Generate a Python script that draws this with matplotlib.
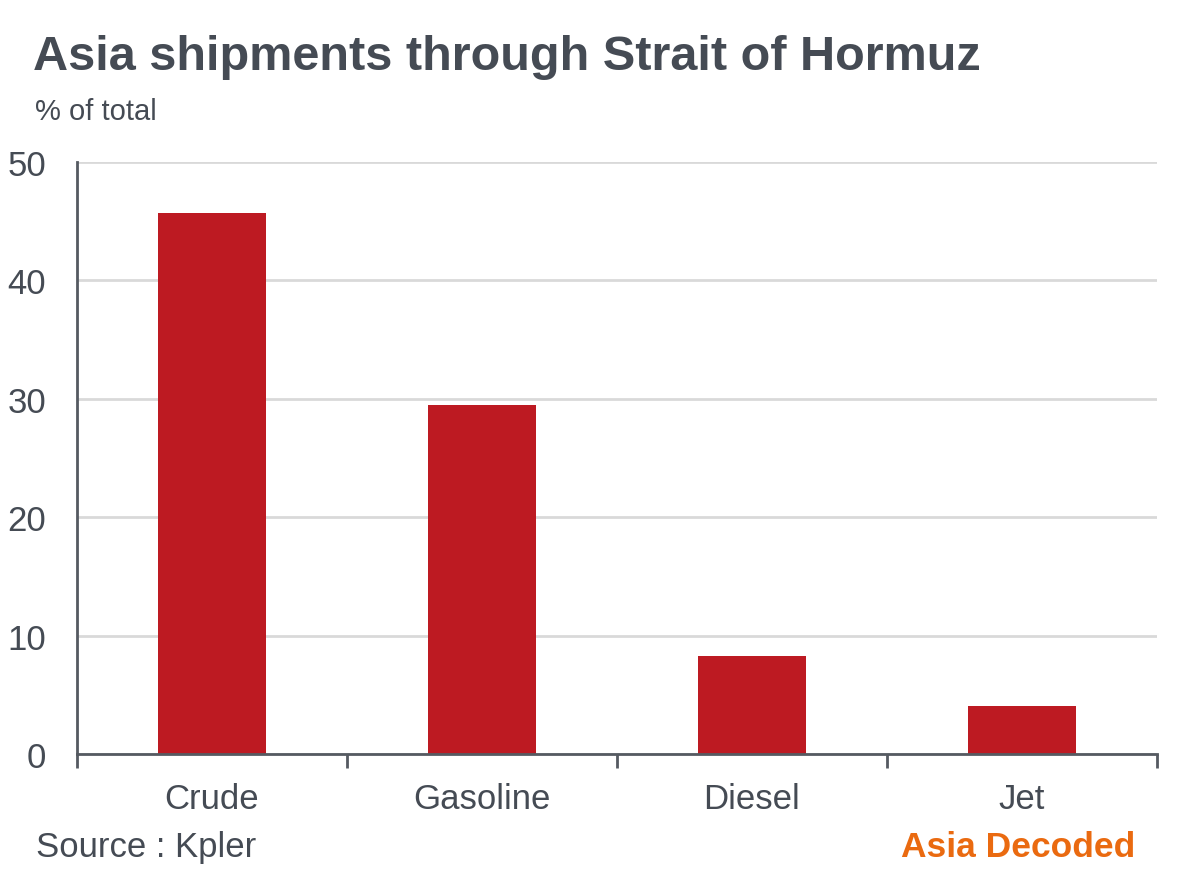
import matplotlib
matplotlib.use('Agg')
import matplotlib.pyplot as plt
import numpy as np

categories = ['Crude', 'Gasoline', 'Diesel', 'Jet']
shares = [45.7, 29.5, 8.3, 4.1]
y_ticks = [0, 10, 20, 30, 40, 50]

text_col = '#454b54'
bar_col = '#bd1a22'

plt.rcParams['font.family'] = ['Liberation Sans', 'DejaVu Sans']

fig = plt.figure(figsize=(12, 8.79), dpi=100)
ax = fig.add_axes([0.064, 0.141, 0.9, 0.6736])

x = np.arange(len(categories))
ax.bar(x, shares, width=0.4, color=bar_col, zorder=3)

ax.set_xlim(-0.5, len(categories) - 0.5)
ax.set_ylim(0, 50)
ax.set_yticks(y_ticks)
ax.set_yticklabels([str(v) for v in y_ticks])
ax.yaxis.grid(True, color='#d9d9d9', linewidth=2, zorder=0)

ax.set_xticks(x)
ax.set_xticklabels(categories)
ax.set_xticks(np.arange(len(categories) + 1) - 0.5, minor=True)
ax.tick_params(axis='x', which='major', length=0, pad=20, labelsize=25, labelcolor=text_col)
ax.tick_params(axis='x', which='minor', length=10, width=2, color='#555a61', direction='out')
ax.tick_params(axis='y', length=0, pad=22, labelsize=25, labelcolor=text_col)

for side in ['top', 'right']:
    ax.spines[side].set_visible(False)
for side in ['left', 'bottom']:
    ax.spines[side].set_color('#555a61')
    ax.spines[side].set_linewidth(2)
    ax.spines[side].set_zorder(4)

fig.text(0.0275, 0.920, 'Asia shipments through Strait of Hormuz', fontsize=35,
         fontweight='bold', color=text_col, ha='left', va='baseline')
fig.text(0.0295, 0.8635, '% of total', fontsize=21, color=text_col, ha='left', va='baseline')
fig.text(0.03, 0.025, 'Source : Kpler', fontsize=25, color=text_col, ha='left', va='baseline')
fig.text(0.946, 0.025, 'Asia Decoded', fontsize=25.5, fontweight='bold', color='#ea6a10',
         ha='right', va='baseline')

fig.savefig('out.png', dpi=100, facecolor='white')
